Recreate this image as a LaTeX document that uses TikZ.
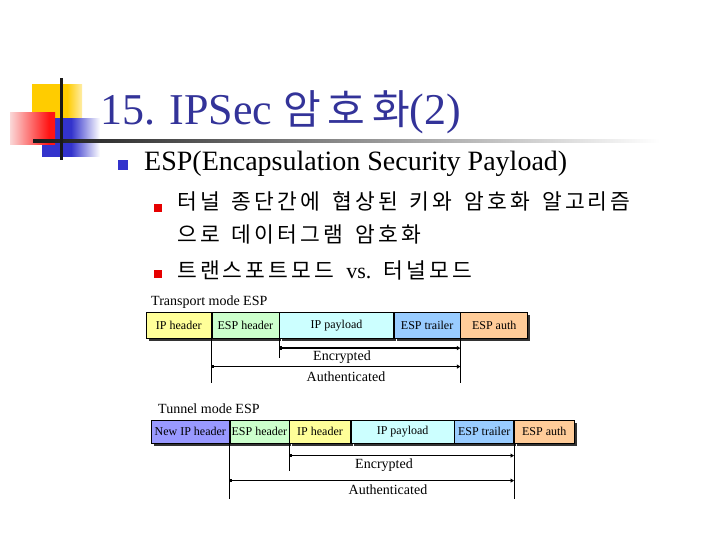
\documentclass[tikz,border=0pt]{standalone}
\usepackage{fontspec}
\setmainfont{Liberation Serif}
\newfontfamily\kr[LetterSpace=14.5]{Noto Sans CJK KR}
\newfontfamily\krt[LetterSpace=16]{Noto Sans CJK KR}
\newcommand{\ksp}{\hspace{12pt}}
\usetikzlibrary{shadows,arrows.meta}
\definecolor{titleblue}{RGB}{51,51,153}
\definecolor{bulblue}{RGB}{51,51,204}
\definecolor{bulred}{RGB}{230,0,0}
\definecolor{logoblue}{RGB}{51,51,204}
\definecolor{logored}{RGB}{255,20,20}
\definecolor{logopink}{RGB}{250,215,215}
\definecolor{logoyellow}{RGB}{255,204,0}
\definecolor{cyellow}{RGB}{255,255,153}
\definecolor{cgreen}{RGB}{204,255,204}
\definecolor{ccyan}{RGB}{204,255,255}
\definecolor{cblue}{RGB}{153,204,255}
\definecolor{cpeach}{RGB}{255,204,153}
\definecolor{cviolet}{RGB}{153,153,255}
\pgfdeclarehorizontalshading{bluefade}{100bp}{color(0bp)=(logoblue); color(25bp)=(logoblue); color(50bp)=(logoblue); color(75bp)=(white); color(100bp)=(white)}
\pgfdeclarehorizontalshading{redfade}{100bp}{color(0bp)=(logopink); color(25bp)=(logopink); color(68bp)=(logored); color(75bp)=(logored); color(100bp)=(logored)}
\pgfdeclarehorizontalshading{yellowfade}{100bp}{color(0bp)=(logoyellow); color(25bp)=(logoyellow); color(60bp)=(logoyellow); color(75bp)=(logoyellow!35); color(100bp)=(logoyellow!35)}
\tikzset{
  pkt/.style={draw=black, line width=0.6pt, inner sep=0pt, anchor=north west,
    font=\fontsize{12}{14}\selectfont,
    drop shadow={shadow xshift=2.5pt, shadow yshift=-2.5pt, fill=black!80, opacity=1}},
  trow/.style={pkt, minimum height=26pt},
  nrow/.style={pkt, minimum height=23pt},
  conn/.style={draw=black, line width=0.8pt},
  arr/.style={draw=black, line width=1.6pt, {Square[length=2.5pt,width=3.5pt]}-{Triangle[length=3.5pt,width=4pt]}},
  lbl/.style={inner sep=0pt, font=\fontsize{14}{16}\selectfont},
  bulone/.style={fill=bulblue, minimum size=10pt, inner sep=0pt},
  bultwo/.style={fill=bulred, minimum size=8pt, inner sep=0pt},
  bodytext/.style={anchor=base west, inner sep=0pt},
  krtext/.style={bodytext, font=\kr\fontsize{21.5}{24}\selectfont}
}
\begin{document}
\begin{tikzpicture}[x=1pt,y=-1pt]
\useasboundingbox (0,0) rectangle (720,540);
\fill[white] (0,0) rectangle (720,540);
% logo
\shade[shading=yellowfade] (32,85) rectangle (82,120);
\shade[shading=bluefade] (42,119) rectangle (100,157);
\shade[shading=redfade] (10,113) rectangle (55,145);
\shade[left color=black!90, right color=white] (33,139.5) rectangle (660,142.5);
\fill[black!90] (59.5,78) rectangle (62.5,160);
% title
\node[anchor=base west, inner sep=0pt, text=titleblue, font=\fontsize{44}{50}\selectfont] (title) at (100,125)
  {15. IPSec {\krt\fontsize{41}{48}\selectfont 암호화}(2)};
% bullets
\node[bulone] (b1) at (123,165) {};
\node[bodytext, font=\fontsize{28}{34}\selectfont] (l1) at (144,171) {ESP(Encapsulation Security Payload)};
\node[bultwo] (b2) at (158,208) {};
\node[krtext] (l2a) at (177,210) {터널\ksp 종단간에\ksp 협상된\ksp 키와\ksp 암호화\ksp 알고리즘};
\node[krtext] (l2b) at (177,243) {으로\ksp 데이터그램\ksp 암호화};
\node[bultwo] (b3) at (158,273.5) {};
\node[krtext] (l3) at (177,278)
  {트랜스포트모드\ksp{\rmfamily\fontsize{22}{26}\selectfont vs.}\ksp 터널모드};
% transport mode
\node[lbl, anchor=west] (tlabel) at (151,302) {Transport mode ESP};
\node[trow, fill=cyellow, minimum width=65pt] (tip) at (146,312) {IP header};
\node[trow, fill=cgreen, minimum width=67pt] (tesph) at (tip.north east) {ESP header};
\node[trow, fill=ccyan, minimum width=114pt] (tpay) at (tesph.north east) {IP payload};
\node[trow, fill=cblue, minimum width=66pt] (ttrl) at (tpay.north east) {ESP trailer};
\node[trow, fill=cpeach, minimum width=67pt] (tauth) at (ttrl.north east) {ESP auth};
\path (tesph.south west) ++(0,44) coordinate (tv1);
\path (tpay.south west) ++(0,19) coordinate (tv2);
\path (tauth.south west) ++(0,44) coordinate (tv3);
\draw[conn] (tesph.south west) -- (tv1);
\draw[conn] (tpay.south west) -- (tv2);
\draw[conn] (tauth.south west) -- (tv3);
\path (tpay.south west) ++(0,9.5) coordinate (te1);
\path (tauth.south west) ++(0,9.5) coordinate (te2);
\path (tesph.south west) ++(0,28) coordinate (ta1);
\path (tauth.south west) ++(0,28) coordinate (ta2);
\draw[arr] (te1) -- (te2);
\draw[arr] (ta1) -- (ta2);
\node[lbl] (tenc) at (342,357) {Encrypted};
\node[lbl] (taut) at (346,377) {Authenticated};
% tunnel mode
\node[lbl, anchor=west] (nlabel) at (158,409) {Tunnel mode ESP};
\node[nrow, fill=cviolet, minimum width=78pt] (nnew) at (151,420) {New IP header};
\node[nrow, fill=cgreen, minimum width=59pt] (nesph) at (nnew.north east) {ESP header};
\node[nrow, fill=cyellow, minimum width=61pt] (nip) at (nesph.north east) {IP header};
\node[nrow, fill=ccyan, minimum width=103pt] (npay) at (nip.north east) {IP payload};
\node[nrow, fill=cblue, minimum width=59pt] (ntrl) at (npay.north east) {ESP trailer};
\node[nrow, fill=cpeach, minimum width=60pt] (nauth) at (ntrl.north east) {ESP auth};
\path (nesph.south west) ++(0,55) coordinate (nv1);
\path (nip.south west) ++(0,27) coordinate (nv2);
\path (nauth.south west) ++(0,55) coordinate (nv3);
\draw[conn] (nesph.south west) -- (nv1);
\draw[conn] (nip.south west) -- (nv2);
\draw[conn] (nauth.south west) -- (nv3);
\path (nip.south west) ++(0,12) coordinate (ne1);
\path (nauth.south west) ++(0,12) coordinate (ne2);
\path (nesph.south west) ++(0,37) coordinate (na1);
\path (nauth.south west) ++(0,37) coordinate (na2);
\draw[arr] (ne1) -- (ne2);
\draw[arr] (na1) -- (na2);
\node[lbl] (nenc) at (384,465) {Encrypted};
\node[lbl] (naut) at (388,490) {Authenticated};
\end{tikzpicture}
\end{document}
